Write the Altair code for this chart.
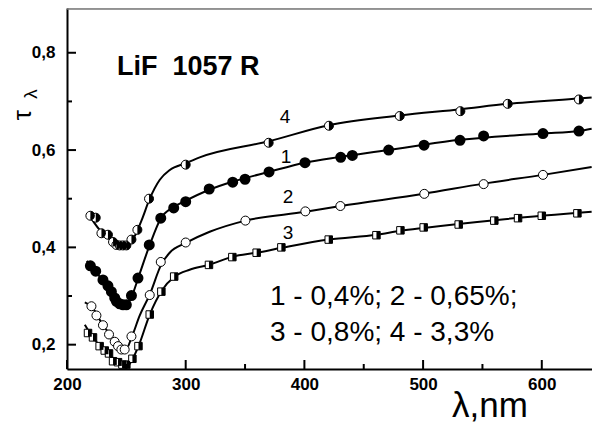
import altair as alt
import pandas as pd

# ---------------- data ----------------
# series 1 (filled circles)
s1_x = [219.7, 224.2, 230.3, 234.5, 237.4, 240.2, 241.6, 244.4, 247.2, 250.0, 254.3, 259.8,
        269.3, 279.0, 289.9, 300.0, 319.8, 339.6, 350.0, 370.2, 400.5, 430.6, 440.4, 471.0,
        500.8, 531.1, 551.0, 601.0, 631.3]
s1_y = [0.362, 0.351, 0.333, 0.321, 0.309, 0.296, 0.289, 0.284, 0.282, 0.282, 0.301, 0.337,
        0.405, 0.460, 0.481, 0.494, 0.520, 0.534, 0.540, 0.555, 0.574, 0.585, 0.589, 0.600,
        0.610, 0.620, 0.629, 0.634, 0.639]
# series 2 (open circles)
s2_x = [220.6, 224.8, 230.3, 235.4, 240.2, 243.0, 245.8, 248.6, 254.3, 269.7, 279.0, 300.0,
        350.3, 400.8, 430.3, 501.0, 551.0, 601.0]
s2_y = [0.279, 0.260, 0.240, 0.221, 0.206, 0.197, 0.190, 0.190, 0.217, 0.302, 0.370, 0.410,
        0.455, 0.474, 0.485, 0.510, 0.530, 0.549]
# series 3 (half-filled squares)
s3_x = [217.7, 221.9, 227.5, 231.8, 235.4, 238.8, 243.0, 246.7, 250.0, 255.1, 260.2, 269.7,
        279.5, 290.3, 319.6, 339.3, 359.8, 380.6, 420.5, 460.7, 480.9, 500.5, 530.0, 560.0,
        580.0, 600.0, 630.0]
s3_y = [0.224, 0.215, 0.197, 0.188, 0.182, 0.166, 0.164, 0.159, 0.159, 0.171, 0.197, 0.262,
        0.309, 0.340, 0.364, 0.380, 0.389, 0.400, 0.416, 0.425, 0.435, 0.441, 0.447, 0.455,
        0.460, 0.465, 0.470]
# series 4 (half-filled circles)
s4_x = [219.7, 224.2, 229.0, 234.5, 238.8, 241.6, 244.4, 247.2, 250.0, 254.3, 259.3, 269.1,
        300.0, 369.9, 420.7, 480.3, 531.4, 571.3, 631.3]
s4_y = [0.465, 0.461, 0.429, 0.426, 0.411, 0.405, 0.404, 0.404, 0.404, 0.416, 0.436, 0.500,
        0.570, 0.615, 0.650, 0.670, 0.680, 0.695, 0.704]

# fitted curves
c1_x = [216.6, 224.2, 230.9, 237.7, 242.7, 246.9, 250.3, 254.5, 260.4, 269.7, 278.9, 289.9,
        300.0, 319.4, 339.6, 369.9, 400.3, 430.6, 471.0, 500.5, 530.9, 600.8, 631.1, 642.0]
c1_y = [0.372, 0.350, 0.329, 0.307, 0.290, 0.282, 0.282, 0.299, 0.340, 0.405, 0.459, 0.483,
        0.496, 0.518, 0.535, 0.555, 0.574, 0.586, 0.600, 0.611, 0.621, 0.634, 0.639, 0.644]
c2_x = [215.0, 220.8, 230.1, 236.0, 241.0, 246.1, 249.5, 254.6, 261.3, 269.7, 279.5, 286.5,
        300.0, 320.2, 350.4, 401.0, 430.6, 500.5, 551.0, 601.0, 642.0]
c2_y = [0.287, 0.278, 0.241, 0.221, 0.202, 0.190, 0.190, 0.216, 0.260, 0.303, 0.365, 0.389,
        0.409, 0.432, 0.455, 0.473, 0.485, 0.510, 0.531, 0.549, 0.565]
c3_x = [215.0, 219.1, 227.5, 235.9, 242.7, 247.8, 251.1, 255.3, 260.4, 269.7, 279.8, 290.7,
        303.3, 319.4, 339.6, 359.8, 380.9, 420.5, 460.9, 481.1, 500.5, 564.5, 642.0]
c3_y = [0.241, 0.225, 0.198, 0.179, 0.165, 0.157, 0.157, 0.171, 0.198, 0.262, 0.311, 0.340,
        0.354, 0.364, 0.381, 0.389, 0.399, 0.416, 0.426, 0.434, 0.440, 0.457, 0.473]
c4_x = [217.4, 227.5, 236.0, 244.4, 251.1, 257.0, 262.9, 269.7, 278.2, 286.6, 300.0, 311.8,
        369.9, 420.5, 480.3, 531.7, 571.3, 631.1, 642.0]
c4_y = [0.471, 0.436, 0.417, 0.404, 0.407, 0.423, 0.456, 0.500, 0.539, 0.559, 0.573, 0.585,
        0.618, 0.651, 0.671, 0.684, 0.695, 0.706, 0.708]

x_major = [200, 300, 400, 500, 600]
x_minor = [250, 350, 450, 550]
y_major = [0.2, 0.4, 0.6, 0.8]
y_minor = [0.3, 0.5, 0.7]

series_labels = ["1", "2", "3", "4"]
legend_lines = ["1 - 0,4%; 2 - 0,65%;", "3 - 0,8%; 4 - 3,3%"]
sample_title = "LiF\u00a0 1057 R"
x_title = "λ,nm"

# ---------------- layout ----------------
W, H = 525, 361
FONT = "Liberation Sans"

xs = alt.Scale(domain=[200, 642.3], nice=False, zero=False)
ys = alt.Scale(domain=[0.15, 0.892], nice=False, zero=False)

x_axis = alt.Axis(values=x_major, ticks=False, grid=False, domainColor="black", domainWidth=2,
                  labelFont=FONT, labelFontSize=17, labelFontWeight="bold", labelColor="black",
                  labelPadding=7, title=None, labelFlush=False)
y_axis = alt.Axis(values=y_major, ticks=False, grid=False, domainColor="black", domainWidth=2,
                  labelFont=FONT, labelFontSize=17, labelFontWeight="bold", labelColor="black",
                  labelPadding=12, title=None,
                  labelExpr="replace(format(datum.value, '.1f'), '.', ',')")

X = alt.X("x:Q", scale=xs, axis=x_axis)
Y = alt.Y("y:Q", scale=ys, axis=y_axis)


def df(xv, yv):
    return pd.DataFrame({"x": xv, "y": yv})


layers = []
for cx, cy in [(c1_x, c1_y), (c2_x, c2_y), (c3_x, c3_y), (c4_x, c4_y)]:
    layers.append(alt.Chart(df(cx, cy)).mark_line(color="black", strokeWidth=2, clip=True,
                                                   interpolate="monotone").encode(x=X, y=Y))

RIGHT_HALF_CIRCLE = "M0,-1 A1,1,0,0,1,0,1 Z"
RIGHT_HALF_SQUARE = "M0,-1 L1,-1 L1,1 L0,1 Z"

# series 1: filled circles
layers.append(alt.Chart(df(s1_x, s1_y)).mark_point(shape="circle", filled=True, fill="black",
                                                   stroke="black", size=81, opacity=1
                                                   ).encode(x=X, y=Y))
# series 2: open circles
layers.append(alt.Chart(df(s2_x, s2_y)).mark_point(shape="circle", filled=True, fill="white",
                                                   stroke="black", strokeWidth=1, size=81,
                                                   opacity=1).encode(x=X, y=Y))
# series 3: half-filled squares
layers.append(alt.Chart(df(s3_x, s3_y)).mark_point(shape="square", filled=True, fill="white",
                                                   stroke="black", strokeWidth=1, size=56,
                                                   opacity=1).encode(x=X, y=Y))
layers.append(alt.Chart(df(s3_x, s3_y)).mark_point(shape=RIGHT_HALF_SQUARE, filled=True,
                                                   fill="black", strokeWidth=0, size=56,
                                                   opacity=1).encode(x=X, y=Y))
# series 4: half-filled circles
layers.append(alt.Chart(df(s4_x, s4_y)).mark_point(shape="circle", filled=True, fill="white",
                                                   stroke="black", strokeWidth=1, size=81,
                                                   opacity=1).encode(x=X, y=Y))
layers.append(alt.Chart(df(s4_x, s4_y)).mark_point(shape=RIGHT_HALF_CIRCLE, filled=True,
                                                   fill="black", strokeWidth=0, size=81,
                                                   opacity=1).encode(x=X, y=Y))

# inward ticks
layers.append(alt.Chart(pd.DataFrame({"x": x_major})).mark_rule(color="black", strokeWidth=2)
              .encode(x=X, y=alt.value(H), y2=alt.value(H - 9)))
layers.append(alt.Chart(pd.DataFrame({"x": x_minor})).mark_rule(color="black", strokeWidth=2)
              .encode(x=X, y=alt.value(H), y2=alt.value(H - 5)))
layers.append(alt.Chart(pd.DataFrame({"y": y_major})).mark_rule(color="black", strokeWidth=2)
              .encode(y=Y, x=alt.value(0), x2=alt.value(9)))
layers.append(alt.Chart(pd.DataFrame({"y": y_minor})).mark_rule(color="black", strokeWidth=2)
              .encode(y=Y, x=alt.value(0), x2=alt.value(5)))

# top frame line
layers.append(alt.Chart(pd.DataFrame({"a": [0]})).mark_rule(color="#777777", strokeWidth=1.5)
              .encode(x=alt.value(0), x2=alt.value(W), y=alt.value(1)))

# texts
def txt(text, x, y, size, weight="normal", align="left", baseline="alphabetic", angle=0):
    return alt.Chart(pd.DataFrame({"t": [text]})).mark_text(
        font=FONT, fontSize=size, fontWeight=weight, align=align, baseline=baseline,
        angle=angle, color="black").encode(text="t:N", x=alt.value(x), y=alt.value(y))

layers.append(txt(sample_title, 50, 67, 27, weight="bold"))
layers.append(txt(legend_lines[0], 203, 297, 28))
layers.append(txt(legend_lines[1], 203, 333, 28))
layers.append(txt(x_title, 385, 409, 35))
# series labels
for lab, (lx, ly) in zip(series_labels, [(219, 155), (221, 195), (221, 231), (218, 115)]):
    layers.append(txt(lab, lx, ly, 19, align="center"))
# y title: tau with lambda subscript (rotated)
layers.append(txt("τ", -36, 107, 26, align="center", angle=270))
layers.append(txt("λ", -30, 86, 19, align="center", angle=270))

chart = alt.layer(*layers).properties(
    width=W, height=H,
    autosize=alt.AutoSizeParams(type="none"),
    padding={"left": 59, "top": 0, "right": 0, "bottom": 57},
).configure_view(stroke=None).configure(background="white")

chart.save("out.html", embed_options={"renderer": "svg", "actions": False})
